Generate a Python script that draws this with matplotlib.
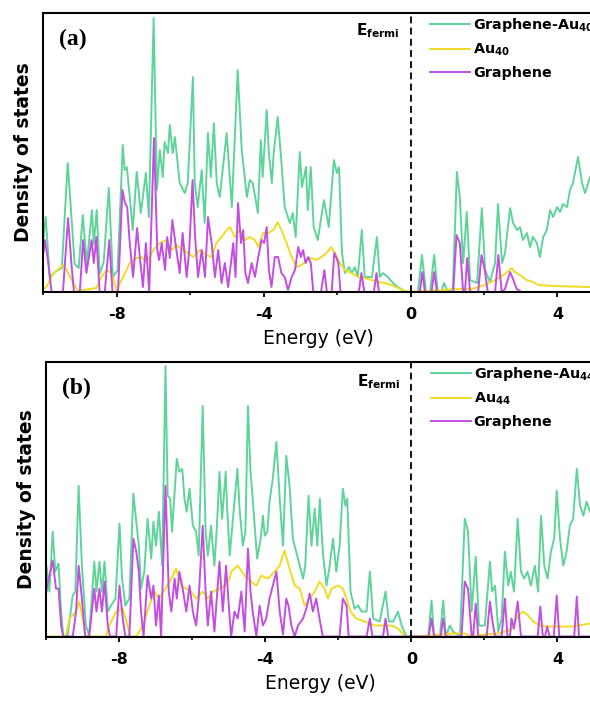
import matplotlib
matplotlib.use("Agg")
import matplotlib.pyplot as plt
from matplotlib.ticker import MultipleLocator

# ---------------------------
# data (energy in eV, DOS in arbitrary units)
# ---------------------------
a_green_e = [-10.00, -9.94, -9.83, -9.69, -9.50, -9.34, -9.15, -9.04, -8.93, -8.82, -8.68, -8.63, -8.55, -8.47,
             -8.36, -8.22, -8.11, -7.98, -7.84, -7.79, -7.73, -7.65, -7.57, -7.46, -7.35, -7.21, -7.13, -7.00,
             -6.91, -6.83, -6.75, -6.70, -6.61, -6.56, -6.48, -6.42, -6.29, -6.15, -6.07, -5.93, -5.88, -5.80,
             -5.69, -5.61, -5.52, -5.44, -5.36, -5.28, -5.20, -5.01, -4.87, -4.71, -4.60, -4.46, -4.38, -4.30,
             -4.16, -4.08, -4.03, -3.92, -3.86, -3.78, -3.73, -3.62, -3.53, -3.43, -3.29, -3.21, -3.13, -3.02,
             -2.96, -2.85, -2.80, -2.72, -2.64, -2.53, -2.36, -2.23, -2.09, -2.01, -1.95, -1.87, -1.79, -1.68,
             -1.60, -1.52, -1.44, -1.33, -1.25, -1.05, -0.92, -0.84, -0.76, -0.62, -0.48, -0.35, -0.21, -0.10,
             0.20, 0.31, 0.42, 0.53, 0.64, 0.74, 0.83, 0.91, 1.02, 1.15, 1.26, 1.34, 1.43, 1.53, 1.62, 1.81,
             1.94, 2.03, 2.16, 2.30, 2.38, 2.49, 2.57, 2.71, 2.79, 2.90, 2.98, 3.06, 3.17, 3.25, 3.33, 3.44,
             3.52, 3.61, 3.71, 3.80, 3.88, 3.99, 4.07, 4.15, 4.26, 4.34, 4.42, 4.56, 4.67, 4.75, 4.89, 5.00]
a_green_dos = [55, 75, 15, 20, 24, 129, 28, 24, 77, 28, 82, 48, 82, 18,
               30, 104, 15, 22, 147, 122, 125, 95, 62, 120, 79, 119, 75, 274,
               102, 142, 115, 150, 139, 167, 139, 155, 109, 99, 109, 215, 109, 85,
               122, 69, 159, 115, 169, 109, 95, 159, 85, 222, 142, 95, 112, 109,
               79, 152, 115, 182, 139, 109, 139, 175, 135, 85, 69, 79, 55, 140,
               105, 125, 82, 125, 65, 52, 92, 65, 132, 119, 125, 39, 19, 25,
               19, 25, 15, 62, 15, 15, 55, 15, 19, 15, 9, 5, 2, 0,
               0, 37, 0, 0, 37, 0, 0, 9, 0, 4, 120, 95, 29, 80, 12, 9,
               84, 22, 10, 29, 88, 29, 39, 84, 69, 62, 65, 52, 59, 45, 55, 49,
               35, 55, 62, 82, 75, 85, 80, 88, 85, 102, 109, 135, 109, 99, 115, 120]

a_gold_e = [-10.00, -9.92, -9.74, -9.47, -9.37, -9.19, -9.06, -8.74, -8.56, -8.42, -8.28, -8.15, -8.01, -7.83,
            -7.65, -7.47, -7.33, -7.19, -7.01, -6.83, -6.65, -6.51, -6.38, -6.20, -6.06, -5.92, -5.74, -5.56,
            -5.42, -5.29, -5.15, -5.01, -4.92, -4.79, -4.65, -4.52, -4.38, -4.24, -4.15, -4.02, -3.88, -3.74,
            -3.62, -3.52, -3.38, -3.24, -3.11, -2.97, -2.83, -2.70, -2.56, -2.43, -2.29, -2.17, -2.06, -1.93,
            -1.79, -1.61, -1.43, -1.25, -1.06, -0.88, -0.70, -0.52, -0.34, -0.16, 0.00, 0.39, 0.93, 1.21,
            1.66, 2.02, 2.30, 2.57, 2.75, 2.84, 2.98, 3.16, 3.34, 3.48, 3.93, 4.89, 5.00]
a_gold_dos = [3, 5, 18, 27, 22, 9, 1, 3, 4, 15, 22, 19, 2, 15,
              29, 34, 35, 30, 42, 49, 52, 42, 47, 42, 39, 35, 42, 37,
              35, 49, 55, 62, 65, 55, 62, 52, 55, 52, 45, 59, 59, 62,
              70, 62, 49, 35, 25, 27, 32, 34, 32, 35, 39, 45, 39, 29,
              22, 19, 15, 14, 12, 10, 9, 7, 4, 1, 0, 1, 2, 3,
              3, 7, 12, 18, 24, 20, 17, 12, 10, 7, 6, 5, 5]

a_gr_e = [-10.00, -9.96, -9.87, -9.78, -9.47, -9.33, -9.24, -9.17, -9.01, -8.92, -8.83, -8.69, -8.63, -8.56,
          -8.47, -8.33, -8.21, -8.12, -7.97, -7.85, -7.78, -7.72, -7.65, -7.56, -7.45, -7.36, -7.29, -7.21,
          -7.12, -6.99, -6.90, -6.85, -6.78, -6.69, -6.63, -6.56, -6.49, -6.38, -6.29, -6.21, -6.10, -6.03,
          -5.94, -5.87, -5.79, -5.69, -5.60, -5.52, -5.42, -5.33, -5.24, -5.15, -5.06, -4.97, -4.83, -4.77,
          -4.70, -4.62, -4.56, -4.50, -4.43, -4.33, -4.24, -4.15, -4.06, -3.99, -3.92, -3.86, -3.79, -3.70,
          -3.61, -3.52, -3.43, -3.34, -3.24, -3.15, -3.06, -2.99, -2.93, -2.86, -2.79, -2.72, -2.65, -2.44,
          -2.35, -2.28, -2.15, -2.08, -2.02, -1.97, -1.91, -1.41, -1.34, -1.26, -1.00, -0.93, -0.86, 0.25,
          0.32, 0.39, 0.57, 0.64, 0.72, 1.16, 1.25, 1.34, 1.43, 1.48, 1.54, 1.62, 1.84, 1.93,
          2.02, 2.10, 2.30, 2.39, 2.48, 2.57, 2.71, 2.80, 2.89, 3.02, 5.00]
a_gr_dos = [40, 52, 29, 0, 0, 74, 29, 0, 0, 52, 19, 52, 29, 55,
            0, 0, 52, 0, 0, 102, 89, 85, 49, 15, 64, 29, 5, 49,
            0, 154, 42, 32, 49, 22, 55, 34, 72, 42, 19, 59, 15, 42,
            112, 55, 15, 42, 15, 75, 49, 15, 42, 9, 29, 5, 49, 15,
            89, 49, 62, 19, 9, 29, 15, 35, 52, 49, 65, 22, 5, 35,
            35, 19, 15, 2, 15, 22, 45, 35, 42, 29, 35, 29, 0, 0,
            22, 0, 0, 39, 34, 29, 0, 0, 19, 0, 0, 19, 0, 0,
            20, 0, 0, 20, 0, 0, 57, 49, 0, 0, 34, 0, 0, 37,
            22, 0, 0, 37, 0, 3, 20, 12, 3, 0, 0]

b_green_e = [-10.00, -9.92, -9.83, -9.76, -9.67, -9.60, -9.54, -9.42, -9.28, -9.21, -9.12, -9.03, -8.92, -8.83,
             -8.69, -8.63, -8.55, -8.48, -8.41, -8.32, -8.23, -8.11, -8.00, -7.93, -7.84, -7.73, -7.62, -7.54,
             -7.47, -7.41, -7.32, -7.23, -7.13, -7.07, -7.00, -6.92, -6.83, -6.74, -6.68, -6.61, -6.56, -6.49,
             -6.43, -6.36, -6.28, -6.22, -6.16, -6.08, -5.99, -5.90, -5.83, -5.72, -5.64, -5.58, -5.49, -5.40,
             -5.33, -5.26, -5.19, -5.09, -5.05, -4.98, -4.89, -4.77, -4.71, -4.62, -4.55, -4.48, -4.41, -4.35,
             -4.23, -4.13, -4.07, -4.02, -3.95, -3.89, -3.80, -3.70, -3.61, -3.52, -3.43, -3.34, -3.25, -3.16,
             -3.06, -2.97, -2.91, -2.82, -2.74, -2.65, -2.58, -2.51, -2.43, -2.33, -2.24, -2.15, -2.06, -1.97,
             -1.88, -1.81, -1.76, -1.67, -1.56, -1.46, -1.37, -1.23, -1.14, -1.05, -0.87, -0.71, -0.62, -0.50,
             -0.37, -0.27, -0.14, 0.46, 0.55, 0.62, 0.78, 0.87, 0.94, 1.05, 1.14, 1.33, 1.46, 1.55,
             1.65, 1.76, 1.85, 2.01, 2.15, 2.21, 2.29, 2.38, 2.47, 2.56, 2.65, 2.72, 2.81, 2.91,
             3.00, 3.09, 3.18, 3.27, 3.38, 3.47, 3.55, 3.64, 3.73, 3.82, 3.91, 3.98, 4.07, 4.16,
             4.25, 4.34, 4.43, 4.53, 4.62, 4.71, 4.80, 4.89, 5.00]
b_green_dos = [70, 45, 105, 65, 73, 25, 0, 1, 41, 45, 151, 71, 11, 1,
               75, 45, 75, 45, 75, 25, 31, 38, 113, 58, 31, 38, 143, 115,
               91, 48, 65, 118, 78, 115, 91, 125, 71, 271, 141, 138, 105, 145,
               178, 165, 168, 138, 125, 148, 111, 105, 81, 231, 105, 81, 111, 71,
               111, 165, 118, 165, 128, 81, 118, 168, 128, 91, 105, 231, 165, 138,
               78, 98, 121, 101, 105, 135, 158, 195, 138, 91, 181, 151, 98, 85,
               71, 58, 71, 141, 91, 128, 91, 138, 85, 51, 71, 98, 65, 91,
               148, 131, 138, 45, 28, 31, 25, 25, 65, 18, 15, 45, 15, 15,
               25, 11, 0, 0, 36, 0, 0, 36, 0, 11, 5, 0, 118, 105,
               25, 80, 11, 11, 75, 45, 51, 5, 18, 85, 51, 65, 45, 118,
               65, 58, 65, 51, 71, 45, 121, 71, 58, 85, 98, 146, 98, 71,
               85, 111, 118, 168, 131, 121, 135, 125, 130]

b_gold_e = [-10.00, -9.47, -9.37, -9.19, -9.10, -9.01, -8.92, -8.37, -8.28, -8.09, -7.91, -7.78, -7.71, -7.54,
            -7.36, -7.18, -7.04, -6.91, -6.74, -6.58, -6.45, -6.31, -6.17, -6.04, -5.90, -5.72, -5.58, -5.44,
            -5.26, -5.12, -4.98, -4.94, -4.76, -4.57, -4.39, -4.25, -4.12, -3.93, -3.75, -3.61, -3.48, -3.34,
            -3.20, -3.06, -2.93, -2.79, -2.65, -2.52, -2.38, -2.29, -2.19, -2.01, -1.88, -1.78, -1.67, -1.51,
            -1.28, -1.01, -0.73, -0.55, -0.37, -0.18, 0.18, 1.10, 1.46, 1.65, 2.01, 2.38, 2.74, 2.92,
            3.06, 3.20, 3.34, 3.52, 3.70, 4.02, 4.39, 4.89, 5.00]
b_gold_dos = [0, 0, 18, 25, 35, 18, 0, 0, 11, 25, 28, 11, 0, 0,
              11, 31, 45, 38, 48, 58, 68, 51, 48, 45, 38, 45, 38, 45,
              48, 51, 58, 65, 71, 61, 55, 51, 61, 58, 65, 71, 86, 68,
              51, 48, 31, 38, 45, 55, 48, 38, 48, 51, 48, 38, 25, 18,
              15, 11, 11, 11, 8, 0, 0, 3, 3, 0, 2, 3, 7, 21,
              25, 21, 15, 11, 10, 10, 10, 13, 13]

b_gr_e = [-10.00, -9.98, -9.83, -9.74, -9.67, -9.60, -9.54, -9.28, -9.19, -9.12, -9.03, -8.94, -8.83, -8.69,
          -8.63, -8.55, -8.48, -8.41, -8.32, -8.26, -8.09, -8.00, -7.91, -7.84, -7.73, -7.62, -7.54, -7.47,
          -7.41, -7.34, -7.23, -7.13, -7.07, -7.00, -6.92, -6.86, -6.74, -6.65, -6.58, -6.49, -6.43, -6.36,
          -6.27, -6.17, -6.08, -5.99, -5.90, -5.83, -5.72, -5.64, -5.58, -5.49, -5.40, -5.26, -5.17, -5.08,
          -4.98, -4.94, -4.85, -4.76, -4.66, -4.57, -4.48, -4.41, -4.35, -4.25, -4.16, -4.07, -3.98, -3.89,
          -3.80, -3.70, -3.61, -3.52, -3.43, -3.37, -3.29, -3.20, -3.11, -2.97, -2.88, -2.79, -2.70, -2.61,
          -2.52, -2.43, -1.97, -1.88, -1.78, -1.72, -1.23, -1.14, -1.07, -0.78, -0.71, -0.64, 0.47, 0.55,
          0.62, 0.80, 0.87, 0.94, 1.37, 1.46, 1.55, 1.65, 1.69, 1.76, 1.83, 2.06, 2.15, 2.22,
          2.29, 2.47, 2.56, 2.63, 2.70, 2.74, 2.81, 2.91, 3.00, 3.46, 3.53, 3.60, 3.66, 3.72,
          3.78, 3.90, 3.98, 4.05, 4.46, 4.53, 4.59, 5.00]
b_gr_dos = [45, 51, 76, 48, 48, 11, 0, 0, 25, 71, 38, 0, 0, 48,
            25, 48, 25, 55, 11, 0, 0, 51, 18, 0, 0, 98, 85, 65,
            25, 0, 61, 38, 51, 11, 41, 0, 151, 45, 25, 58, 38, 65,
            48, 25, 51, 25, 11, 38, 111, 45, 11, 45, 5, 75, 25, 71,
            18, 0, 25, 18, 45, 5, 88, 45, 25, 0, 31, 11, 18, 38,
            51, 65, 25, 2, 38, 31, 11, 0, 11, 18, 28, 43, 25, 38,
            18, 0, 0, 38, 31, 0, 0, 18, 0, 0, 18, 0, 0, 18,
            0, 0, 18, 0, 0, 55, 48, 0, 0, 33, 0, 0, 35, 15,
            0, 0, 38, 0, 0, 18, 8, 35, 0, 0, 30, 0, 0, 10,
            0, 0, 41, 0, 0, 40, 0, 0]

green = "#5fd49a"
gold = "#f0dc22"
violet = "#c24fe0"


def draw_panel(fig, rect, tag, cluster, green_e, green_dos, gold_e, gold_dos, gr_e, gr_dos, ytop, ef_y):
    ax = fig.add_axes(rect)
    ax.plot(green_e, green_dos, color=green, lw=1.4, label="Graphene-Au$_{" + cluster + "}$")
    ax.plot(gold_e, gold_dos, color=gold, lw=1.4, label="Au$_{" + cluster + "}$")
    ax.plot(gr_e, gr_dos, color=violet, lw=1.4, label="Graphene")
    ax.axvline(0, color="black", lw=1.3, ls=(0, (3.8, 2.4)))

    ax.set_xlim(-10, 5)
    ax.set_ylim(0, ytop)
    ax.set_yticks([])
    ax.xaxis.set_major_locator(MultipleLocator(4))
    ax.xaxis.set_minor_locator(MultipleLocator(2))
    ax.tick_params(axis="x", which="major", direction="out", length=3.5, width=1.3, pad=7.5, labelsize=11.5)
    ax.tick_params(axis="x", which="minor", direction="out", length=2, width=1.2)
    for side in ["left", "bottom", "top"]:
        ax.spines[side].set_linewidth(1.5)
    ax.spines["right"].set_visible(False)

    ax.set_xlabel("Energy (eV)", fontsize=13.5, labelpad=5)
    ax.text(-0.037, 0.5, "Density of states", transform=ax.transAxes, rotation=90,
            ha="center", va="center", fontsize=13.5)
    ax.text(0.028, 0.905, tag, transform=ax.transAxes, ha="left", va="center",
            fontsize=17, family="Liberation Serif", weight="bold")
    ax.text(-0.3, ef_y, r"$E_{fermi}$", ha="right", va="baseline", fontsize=11)

    ax.legend(loc="upper left", bbox_to_anchor=(0.702, 0.99), frameon=False, fontsize=10.3,
              borderaxespad=0, borderpad=0, handlelength=2.8, handletextpad=0.2, labelspacing=0.55)
    return ax


def main():
    plt.rcParams["font.family"] = "DejaVu Sans"
    plt.rcParams["font.weight"] = "bold"
    plt.rcParams["mathtext.fontset"] = "dejavusans"
    plt.rcParams["mathtext.default"] = "bf"
    plt.rcParams["axes.unicode_minus"] = False

    fig = plt.figure(figsize=(5.9, 7.02), dpi=100)

    draw_panel(fig, [0.0737, 0.5840, 0.9334, 0.3974], "(a)", "40",
               a_green_e, a_green_dos, a_gold_e, a_gold_dos, a_gr_e, a_gr_dos, 279, 257)
    draw_panel(fig, [0.0788, 0.0933, 0.9279, 0.3910], "(b)", "44",
               b_green_e, b_green_dos, b_gold_e, b_gold_dos, b_gr_e, b_gr_dos, 275, 251)

    fig.savefig("out.png", dpi=100)


if __name__ == "__main__":
    main()
